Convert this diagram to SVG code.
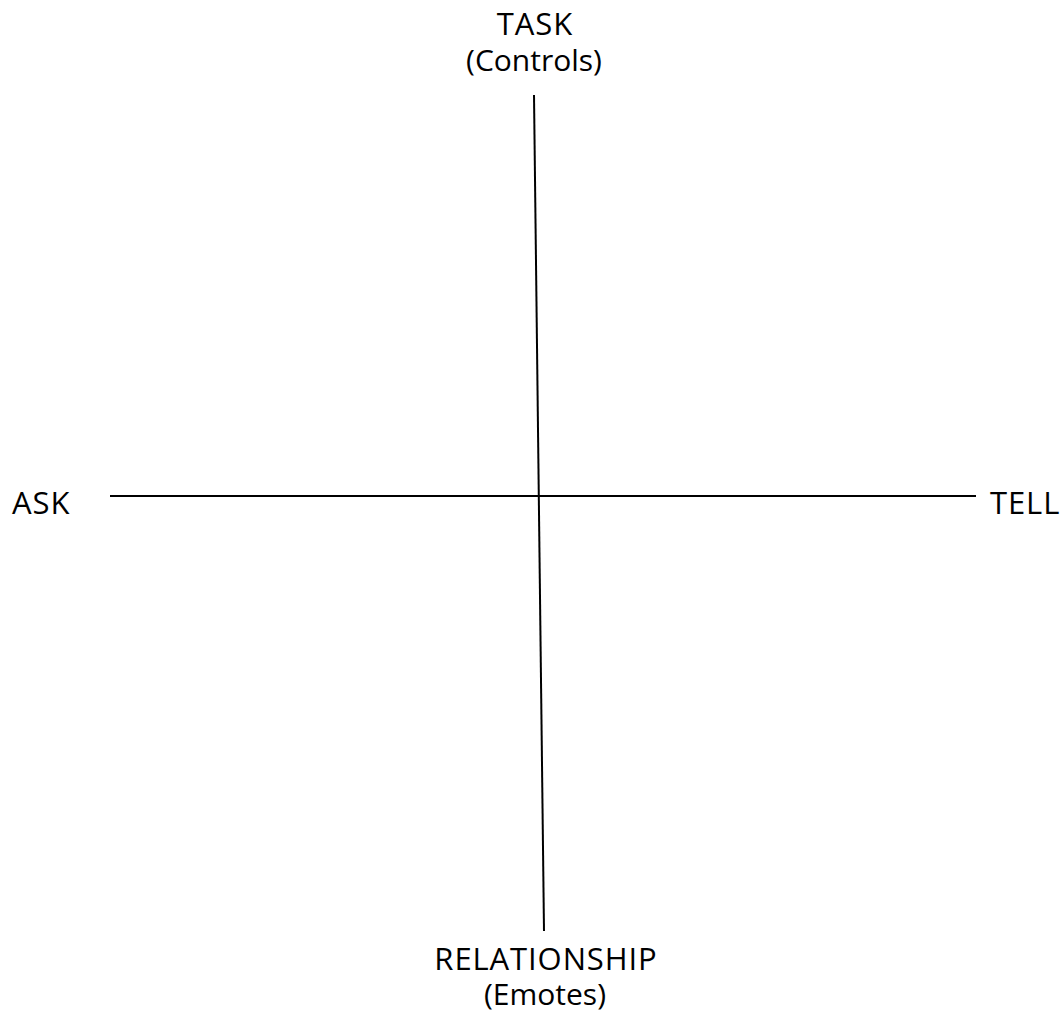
<svg xmlns="http://www.w3.org/2000/svg" width="1061" height="1013" viewBox="0 0 1061 1013">
<style>
.lbl{font-family:"Open Sans","DejaVu Sans",sans-serif;font-size:30px;fill:#000}
.cap{font-size:31px;letter-spacing:0.9px}
.ax{stroke:#000;stroke-width:2;fill:none}
</style>
<rect width="1061" height="1013" fill="#fff"/>
<g id="connectors">
<line class="ax" x1="110" y1="496" x2="976" y2="496"/>
<line class="ax" x1="534" y1="95" x2="544" y2="931"/>
</g>
<g id="task"><text class="lbl cap" x="535" y="35" text-anchor="middle">TASK</text><text class="lbl" x="534" y="71" text-anchor="middle">(Controls)</text></g>
<g id="ask"><text class="lbl cap" x="12" y="514">ASK</text></g>
<g id="tell"><text class="lbl cap" x="990" y="514">TELL</text></g>
<g id="relationship"><text class="lbl cap" x="546" y="970" text-anchor="middle">RELATIONSHIP</text><text class="lbl" x="545" y="1005" text-anchor="middle">(Emotes)</text></g>
</svg>
